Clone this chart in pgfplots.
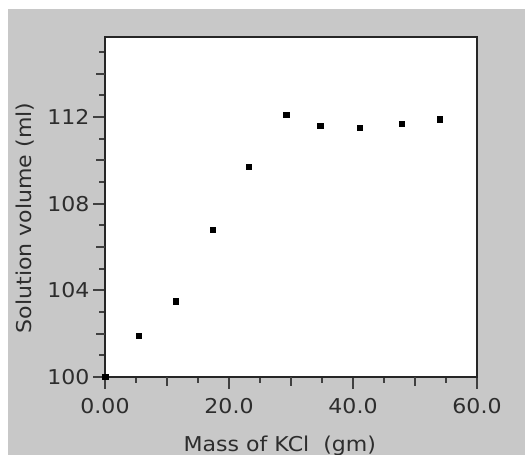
\documentclass[border=0pt]{standalone}
\usepackage{fontspec}
\setmainfont{DejaVu Sans}[FakeStretch=1.08]
\usepackage{pgfplots}
\pgfplotsset{compat=1.18}
\definecolor{bggray}{RGB}{200,200,200}
\definecolor{txt}{RGB}{45,45,45}
\begin{document}
\begin{tikzpicture}[x=1bp,y=1bp]
\useasboundingbox (0,0) rectangle (525,455);
\fill[white] (0,0) rectangle (525,455);
\fill[bggray] (8,0) rectangle (525,446);
\begin{axis}[
  at={(105bp,78bp)}, anchor=south west,
  width=372bp, height=340bp, scale only axis,
  xmin=0, xmax=60, ymin=100, ymax=115.7,
  axis background/.style={fill=white},
  axis line style={line width=2bp, black!85},
  tick align=outside, xtick pos=bottom, ytick pos=left,
  xtick={0,20,40,60}, xticklabels={0.00,20.0,40.0,60.0},
  ytick={100,104,108,112}, yticklabels={100,104,108,112},
  minor xtick={5,15,25,35,45,55},
  minor ytick={101,103,105,107,109,111,113,115},
  extra x ticks={10,30,50}, extra y ticks={102,106,110,114},
  extra x tick labels={}, extra y tick labels={},
  extra tick style={major tick length=9bp},
  major tick length=12bp, minor tick length=6bp,
  every tick/.style={line width=2bp, black!75},
  tick label style={font=\fontsize{20.5}{24}\selectfont, text=txt},
  xticklabel style={yshift=-6bp},
  /pgf/number format/assume math mode=true,
  xlabel={Mass of KCl\ \ (gm)},
  ylabel={Solution volume (ml)},
  label style={font=\fontsize{20.5}{24}\selectfont, text=txt},
  xlabel style={at={(axis description cs:0.47,-0.202)}, anchor=center},
  ylabel style={at={(axis description cs:-0.215,0.468)}, anchor=center},
  clip=false,
]
\addplot[only marks, mark=square*, mark size=2.7bp, black] coordinates {
(0,100) (5.4,101.9) (11.4,103.5) (17.4,106.8) (23.2,109.7)
(29.2,112.1) (34.7,111.6) (41.1,111.5) (47.9,111.7) (54.0,111.9)
};
\end{axis}
\end{tikzpicture}
\end{document}
